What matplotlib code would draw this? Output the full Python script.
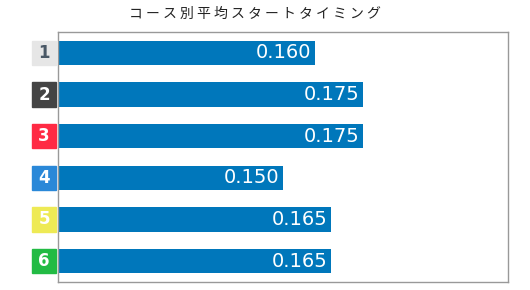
import matplotlib.pyplot as plt
from matplotlib.patches import Rectangle
import matplotlib.transforms as mtransforms

# data
courses = ['1', '2', '3', '4', '5', '6']
st_avg = [0.160, 0.175, 0.175, 0.150, 0.165, 0.165]
box_colors = ['#e6e6e6', '#444444', '#ff2a44', '#2a88d8', '#eeea55', '#22bb44']
num_colors = ['#4a5866', 'white', 'white', 'white', 'white', 'white']
title = 'コース別平均スタートタイミング'

W, H = 530, 290
fig = plt.figure(figsize=(W / 100, H / 100), dpi=100)
ax = fig.add_axes([58 / W, (H - 282) / H, 450 / W, 250 / H])

ypos = list(range(len(courses)))
bar_h = 0.58
ax.barh(ypos, st_avg, height=bar_h, color='#0077bb')
ax.set_xlim(0.08, 0.22)
ax.set_ylim(len(courses) - 0.5, -0.5)

# value labels inside the bars
for y, v in zip(ypos, st_avg):
    ax.text(v - 0.0012, y, '%.3f' % v, ha='right', va='center',
            color='white', fontsize=14, family='DejaVu Sans')

# course number boxes left of the axes
trans = mtransforms.blended_transform_factory(ax.transAxes, ax.transData)
for y, c, bc, tc in zip(ypos, courses, box_colors, num_colors):
    ax.add_patch(Rectangle((-26 / 450, y - bar_h / 2), 24 / 450, bar_h,
                           transform=trans, color=bc, clip_on=False))
    ax.text(-14 / 450, y, c, transform=trans, ha='center', va='center',
            color=tc, fontsize=12, fontweight='bold', family='DejaVu Sans')

ax.set_xticks([])
ax.set_yticks([])
for s in ax.spines.values():
    s.set_color('#999999')
    s.set_linewidth(1)

fig.text(255 / W, 1 - 14 / H, ' '.join(title), ha='center', va='center',
         fontsize=10, family=['Noto Sans CJK JP', 'DejaVu Sans'], color='#222222')

fig.savefig('out.png', dpi=100)
